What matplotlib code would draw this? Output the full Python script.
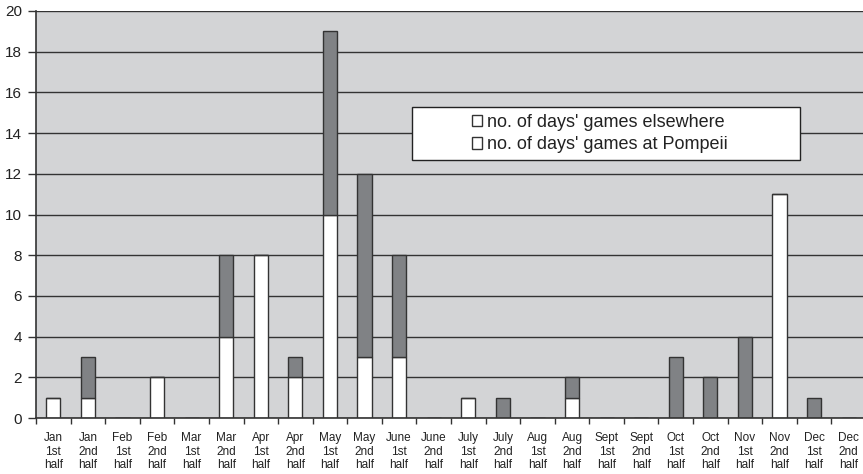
import matplotlib.pyplot as plt
import numpy as np
from matplotlib.patches import Rectangle, Patch

plt.rcParams['font.family'] = ['Liberation Sans', 'DejaVu Sans']

months = ['Jan', 'Jan', 'Feb', 'Feb', 'Mar', 'Mar', 'Apr', 'Apr', 'May', 'May',
          'June', 'June', 'July', 'July', 'Aug', 'Aug', 'Sept', 'Sept', 'Oct', 'Oct',
          'Nov', 'Nov', 'Dec', 'Dec']
halves = ['1st', '2nd'] * 12
pompeii = [1, 1, 0, 2, 0, 4, 8, 2, 10, 3, 3, 0, 1, 0, 0, 1, 0, 0, 0, 0, 0, 11, 0, 0]
elsewhere = [0, 2, 0, 0, 0, 4, 0, 1, 9, 9, 5, 0, 0, 1, 0, 1, 0, 0, 3, 2, 4, 0, 1, 0]
labels = [f"{m}\n{h}\nhalf" for m, h in zip(months, halves)]

W, H = 863, 474
fig = plt.figure(figsize=(W / 100, H / 100), dpi=100)
left, right, top, bottom = 36, 866, 11, 418
ax = fig.add_axes([left / W, 1 - bottom / H, (right - left) / W, (bottom - top) / H])
ax.set_facecolor('#d3d4d6')

x = np.arange(len(months))
bw = 0.41
ax.bar(x, pompeii, bw, color='white', edgecolor='#333333', linewidth=1, zorder=2)
ax.bar(x, elsewhere, bw, bottom=pompeii, color='#808285', edgecolor='#333333',
       linewidth=1, zorder=2)

ax.set_xlim(-0.5, len(months) - 0.5)
ax.set_ylim(0, 20)
ax.set_yticks(range(0, 21, 2))
ax.yaxis.grid(True, color='#333333', linewidth=1)
ax.set_axisbelow(True)
ax.tick_params(axis='y', labelsize=11, length=6, width=1, color='#333333', pad=4,
               labelcolor='#222222')

ax.set_xticks(x)
ax.set_xticklabels(labels, fontsize=8.5, linespacing=1.2, color='#222222')
ax.set_xticks(np.arange(-0.5, len(months), 1), minor=True)
ax.tick_params(axis='x', which='major', length=0, pad=10)
ax.tick_params(axis='x', which='minor', length=4, width=1, color='#333333')

for s in ['top', 'right']:
    ax.spines[s].set_visible(False)
for s in ['left', 'bottom']:
    ax.spines[s].set_color('#333333')
    ax.spines[s].set_linewidth(1.2)

ax.add_patch(Rectangle((10.37, 12.68), 11.21, 2.6, facecolor='white',
                       edgecolor='#222222', linewidth=1, zorder=3))
handles = [Patch(facecolor='white', edgecolor='#333333', linewidth=1),
           Patch(facecolor='white', edgecolor='#333333', linewidth=1)]
leg = ax.legend(handles, ["no. of days' games elsewhere", "no. of days' games at Pompeii"],
                loc='center', bbox_to_anchor=(15.8, 13.98), bbox_transform=ax.transData,
                frameon=False, fontsize=13, handlelength=0.6, handleheight=0.6,
                handletextpad=0.25, labelspacing=0.3, labelcolor='#222222')
leg.set_zorder(4)

fig.savefig('out.png', dpi=100)
